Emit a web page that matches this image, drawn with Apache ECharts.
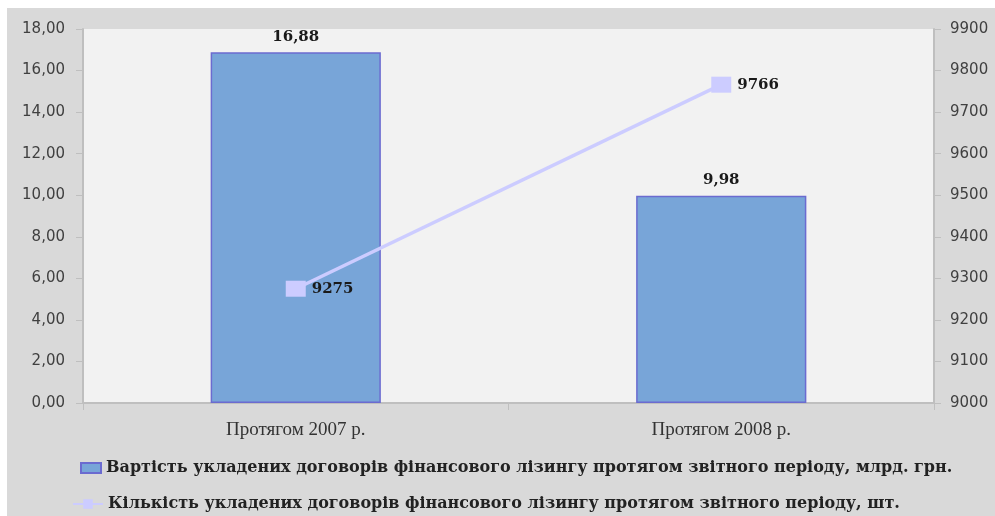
<!DOCTYPE html>
<html>
<head>
<meta charset="utf-8">
<script src="https://cdn.jsdelivr.net/npm/echarts@6/dist/echarts.min.js"></script>
<style>
  html, body { margin: 0; padding: 0; background: #ffffff; }
  #c { position: absolute; left: 7px; top: 8px; width: 988px; height: 508px; background: #d9d9d9; }
</style>
</head>
<body>
<div id="c"></div>
<script>
const categories = ['Протягом 2007 р.', 'Протягом 2008 р.'];
const barValues = [16.88, 9.98];
const lineValues = [9275, 9766];
const barName = 'Вартість укладених договорів фінансового лізингу протягом звітного періоду, млрд. грн.';
const lineName = 'Кількість укладених договорів фінансового лізингу протягом звітного періоду, шт.';
const leftAxis = { min: 0, max: 18, interval: 2 };
const rightAxis = { min: 9000, max: 9900, interval: 100 };

const chart = echarts.init(document.getElementById('c'), null, { renderer: 'canvas' });
const axisLineStyle = { color: '#bfbfbf', width: 2 };
const axisLabelStyle = { color: '#404040', fontFamily: 'DejaVu Sans', fontSize: 15 };
const dataLabelFont = { fontFamily: 'DejaVu Serif', fontWeight: 'bold', fontSize: 15, color: '#1a1a1a' };
const legendText = { fontFamily: 'DejaVu Serif', fontWeight: 'bold', fontSize: 16, color: '#222', lineHeight: 20 };

chart.setOption({
  backgroundColor: 'transparent',
  animation: false,
  grid: {
    left: 76, right: 61, top: 21, bottom: 113,
    show: true, backgroundColor: '#f2f2f2', borderWidth: 0
  },
  legend: [
    {
      left: 68, top: 445,
      itemWidth: 20, itemHeight: 10,
      icon: 'rect',
      textStyle: legendText,
      data: [barName]
    },
    {
      left: 60, top: 481,
      itemWidth: 30, itemHeight: 12,
      textStyle: legendText,
      data: [lineName]
    }
  ],
  xAxis: {
    type: 'category',
    data: categories,
    axisLine: { lineStyle: axisLineStyle },
    axisTick: { show: true, length: 7, lineStyle: { color: '#bfbfbf' } },
    axisLabel: { color: '#333', fontFamily: 'Liberation Serif', fontSize: 19, margin: 18 }
  },
  yAxis: [
    {
      type: 'value', min: leftAxis.min, max: leftAxis.max, interval: leftAxis.interval,
      position: 'left',
      splitLine: { show: false },
      axisLine: { show: true, lineStyle: axisLineStyle },
      axisTick: { show: true, length: 7, lineStyle: { color: '#bfbfbf' } },
      axisLabel: Object.assign({ margin: 18, formatter: v => v.toFixed(2).replace('.', ',') }, axisLabelStyle)
    },
    {
      type: 'value', min: rightAxis.min, max: rightAxis.max, interval: rightAxis.interval,
      position: 'right',
      splitLine: { show: false },
      axisLine: { show: true, lineStyle: axisLineStyle },
      axisTick: { show: true, length: 7, lineStyle: { color: '#bfbfbf' } },
      axisLabel: Object.assign({ margin: 16, formatter: v => String(v) }, axisLabelStyle)
    }
  ],
  series: [
    {
      name: barName,
      type: 'bar',
      yAxisIndex: 0,
      data: barValues,
      barCategoryGap: '60%',
      itemStyle: { color: '#78a5d8', borderColor: '#6b6bd0', borderWidth: 1.5 },
      label: Object.assign({ show: true, position: 'top', distance: 8, formatter: p => p.value.toFixed(2).replace('.', ',') }, dataLabelFont)
    },
    {
      name: lineName,
      type: 'line',
      yAxisIndex: 1,
      data: lineValues,
      symbol: 'rect',
      symbolSize: [20, 16],
      lineStyle: { color: '#ccccff', width: 3.5 },
      itemStyle: { color: '#ccccff' },
      label: Object.assign({ show: true, position: 'right', distance: 6 }, dataLabelFont)
    }
  ]
});
</script>
</body>
</html>
